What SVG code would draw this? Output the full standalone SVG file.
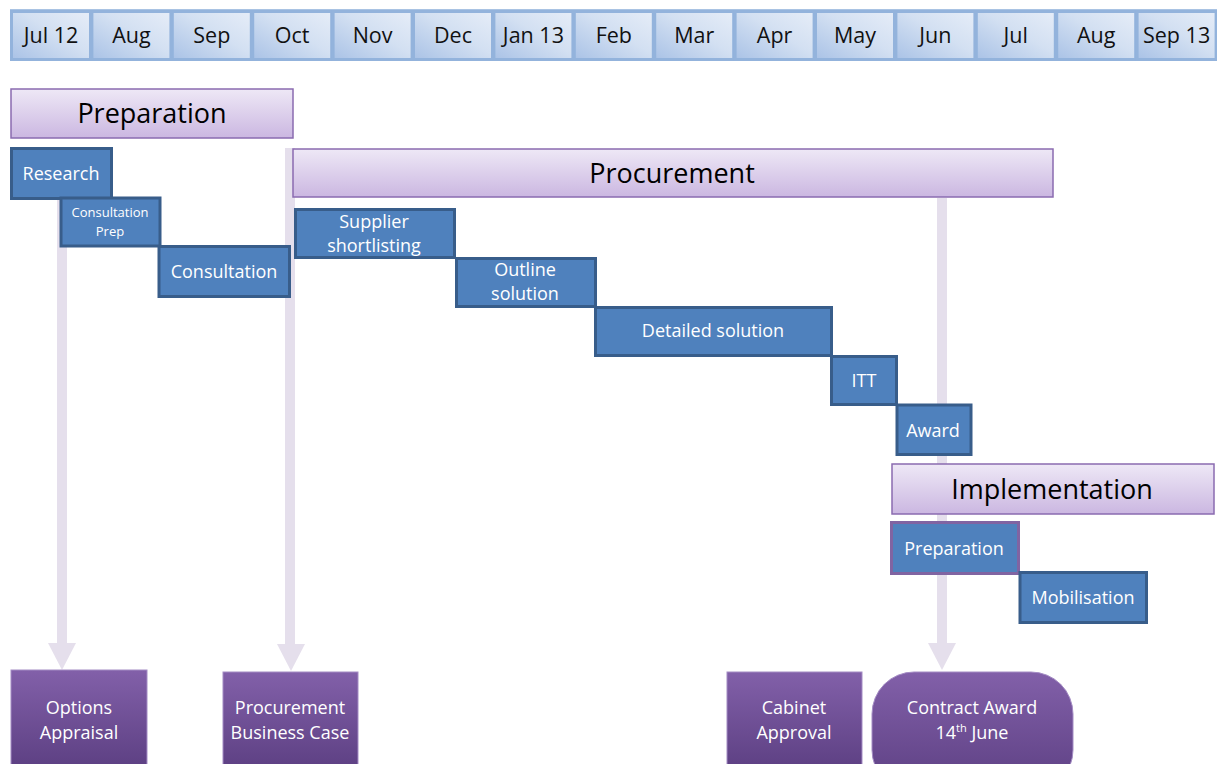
<svg xmlns="http://www.w3.org/2000/svg" width="1217" height="764" viewBox="0 0 1217 764">
<defs>
<linearGradient id="gMonth" x1="0" y1="1" x2="1" y2="0">
<stop offset="0" stop-color="#a9c2e6"/>
<stop offset="0.55" stop-color="#d3e0f2"/>
<stop offset="1" stop-color="#e6edf8"/>
</linearGradient>
<linearGradient id="gPhase" x1="0" y1="0" x2="0" y2="1">
<stop offset="0" stop-color="#eee8f6"/>
<stop offset="1" stop-color="#cbb7e1"/>
</linearGradient>
<linearGradient id="gMile" x1="0" y1="0" x2="0" y2="1">
<stop offset="0" stop-color="#8260a9"/>
<stop offset="1" stop-color="#5c3f82"/>
</linearGradient>
<style>
.m{fill:url(#gMonth);stroke:#93b3dc;stroke-width:3}
.mt{font-family:"Open Sans","Liberation Sans",sans-serif;font-size:21.5px;fill:#111;text-anchor:middle}
.ph{fill:url(#gPhase);stroke:#8a6bb0;stroke-width:1.5}
.pt{font-family:"Open Sans","Liberation Sans",sans-serif;font-size:27px;fill:#000;text-anchor:middle}
.t{fill:#4f81bd;stroke:#385d8a;stroke-width:3}
.tp{fill:#4f81bd;stroke:#8064a2;stroke-width:3}
.tt{font-family:"Open Sans","Liberation Sans",sans-serif;font-size:18px;fill:#fff;text-anchor:middle}
.ms{fill:url(#gMile);stroke:#a48cc4;stroke-width:1}
.mst{font-family:"Open Sans","Liberation Sans",sans-serif;font-size:18px;fill:#fff;text-anchor:middle}
.sh{fill:#e5dfec}
</style>
</defs>
<rect x="0" y="0" width="1217" height="764" fill="#fff"/>

<g id="timeline">
<rect x="10" y="9" width="1209" height="52" fill="#a9c3e3"/>
<g>
<rect class="m" x="11.5" y="11.5" width="79" height="48"/>
<rect class="m" x="91.9" y="11.5" width="79" height="48"/>
<rect class="m" x="172.3" y="11.5" width="79" height="48"/>
<rect class="m" x="252.7" y="11.5" width="79" height="48"/>
<rect class="m" x="333.1" y="11.5" width="79" height="48"/>
<rect class="m" x="413.5" y="11.5" width="79" height="48"/>
<rect class="m" x="493.9" y="11.5" width="79" height="48"/>
<rect class="m" x="574.3" y="11.5" width="79" height="48"/>
<rect class="m" x="654.7" y="11.5" width="79" height="48"/>
<rect class="m" x="735.1" y="11.5" width="79" height="48"/>
<rect class="m" x="815.5" y="11.5" width="79" height="48"/>
<rect class="m" x="895.9" y="11.5" width="79" height="48"/>
<rect class="m" x="976.3" y="11.5" width="79" height="48"/>
<rect class="m" x="1056.7" y="11.5" width="79" height="48"/>
<rect class="m" x="1137.1" y="11.5" width="79" height="48"/>
</g>
<text class="mt" x="51" y="43">Jul 12</text>
<text class="mt" x="131.4" y="43">Aug</text>
<text class="mt" x="211.8" y="43">Sep</text>
<text class="mt" x="292.2" y="43">Oct</text>
<text class="mt" x="372.6" y="43">Nov</text>
<text class="mt" x="453" y="43">Dec</text>
<text class="mt" x="533.4" y="43">Jan 13</text>
<text class="mt" x="613.8" y="43">Feb</text>
<text class="mt" x="694.2" y="43">Mar</text>
<text class="mt" x="774.6" y="43">Apr</text>
<text class="mt" x="855" y="43">May</text>
<text class="mt" x="935.4" y="43">Jun</text>
<text class="mt" x="1015.8" y="43">Jul</text>
<text class="mt" x="1096.2" y="43">Aug</text>
<text class="mt" x="1176.6" y="43">Sep 13</text>
</g>

<g id="connectors">
<rect class="sh" x="57" y="199" width="10" height="446"/>
<polygon class="sh" points="48,643 76,643 62,670"/>
<rect class="sh" x="285" y="148" width="10" height="497"/>
<polygon class="sh" points="277,644 305,644 291,671"/>
<rect class="sh" x="937" y="198" width="10" height="447"/>
<polygon class="sh" points="928,643 956,643 942,670"/>
</g>

<g id="phase-preparation">
<rect class="ph" x="11" y="89" width="282" height="49"/>
<text class="pt" x="152" y="123">Preparation</text>
</g>
<g id="phase-procurement">
<rect class="ph" x="293" y="149" width="760" height="48"/>
<text class="pt" x="672" y="183">Procurement</text>
</g>
<g id="phase-implementation">
<rect class="ph" x="892" y="464" width="322" height="50"/>
<text class="pt" x="1052" y="499">Implementation</text>
</g>

<g id="task-research">
<rect class="t" x="11.5" y="148.5" width="100" height="50"/>
<text class="tt" x="61" y="180">Research</text>
</g>
<g id="task-consultation-prep">
<rect class="t" x="61" y="198" width="99" height="48"/>
<text class="tt" x="110" y="217" style="font-size:13px">Consultation</text>
<text class="tt" x="110" y="236" style="font-size:13px">Prep</text>
</g>
<g id="task-consultation">
<rect class="t" x="159" y="246.5" width="130.5" height="50"/>
<text class="tt" x="224" y="278">Consultation</text>
</g>
<g id="task-supplier-shortlisting">
<rect class="t" x="295.5" y="209.5" width="159" height="48"/>
<text class="tt" x="374" y="228">Supplier</text>
<text class="tt" x="374" y="252">shortlisting</text>
</g>
<g id="task-outline-solution">
<rect class="t" x="456.5" y="258.5" width="139" height="48"/>
<text class="tt" x="525" y="276">Outline</text>
<text class="tt" x="525" y="300">solution</text>
</g>
<g id="task-detailed-solution">
<rect class="t" x="595.5" y="307.5" width="236" height="48"/>
<text class="tt" x="713" y="337">Detailed solution</text>
</g>
<g id="task-itt">
<rect class="t" x="831.5" y="356.5" width="65" height="48"/>
<text class="tt" x="864" y="387">ITT</text>
</g>
<g id="task-award">
<rect class="t" x="897" y="405" width="74" height="49.5"/>
<text class="tt" x="933" y="437">Award</text>
</g>
<g id="task-impl-preparation">
<rect class="tp" x="891.5" y="522.5" width="127" height="51"/>
<text class="tt" x="954" y="555">Preparation</text>
</g>
<g id="task-mobilisation">
<rect class="t" x="1020" y="572.5" width="126.5" height="50"/>
<text class="tt" x="1083" y="604">Mobilisation</text>
</g>

<g id="milestone-options-appraisal">
<rect class="ms" x="11" y="670" width="136" height="100"/>
<text class="mst" x="79" y="714">Options</text>
<text class="mst" x="79" y="739">Appraisal</text>
</g>
<g id="milestone-procurement-business-case">
<rect class="ms" x="223" y="672" width="135" height="100"/>
<text class="mst" x="290" y="714">Procurement</text>
<text class="mst" x="290" y="739">Business Case</text>
</g>
<g id="milestone-cabinet-approval">
<rect class="ms" x="727" y="672" width="135" height="100"/>
<text class="mst" x="794" y="714">Cabinet</text>
<text class="mst" x="794" y="739">Approval</text>
</g>
<g id="milestone-contract-award">
<rect class="ms" x="872" y="672" width="201" height="120" rx="42" ry="42"/>
<text class="mst" x="972" y="714">Contract Award</text>
<text class="mst" x="972" y="739">14<tspan baseline-shift="super" style="font-size:11px">th</tspan> June</text>
</g>
</svg>
